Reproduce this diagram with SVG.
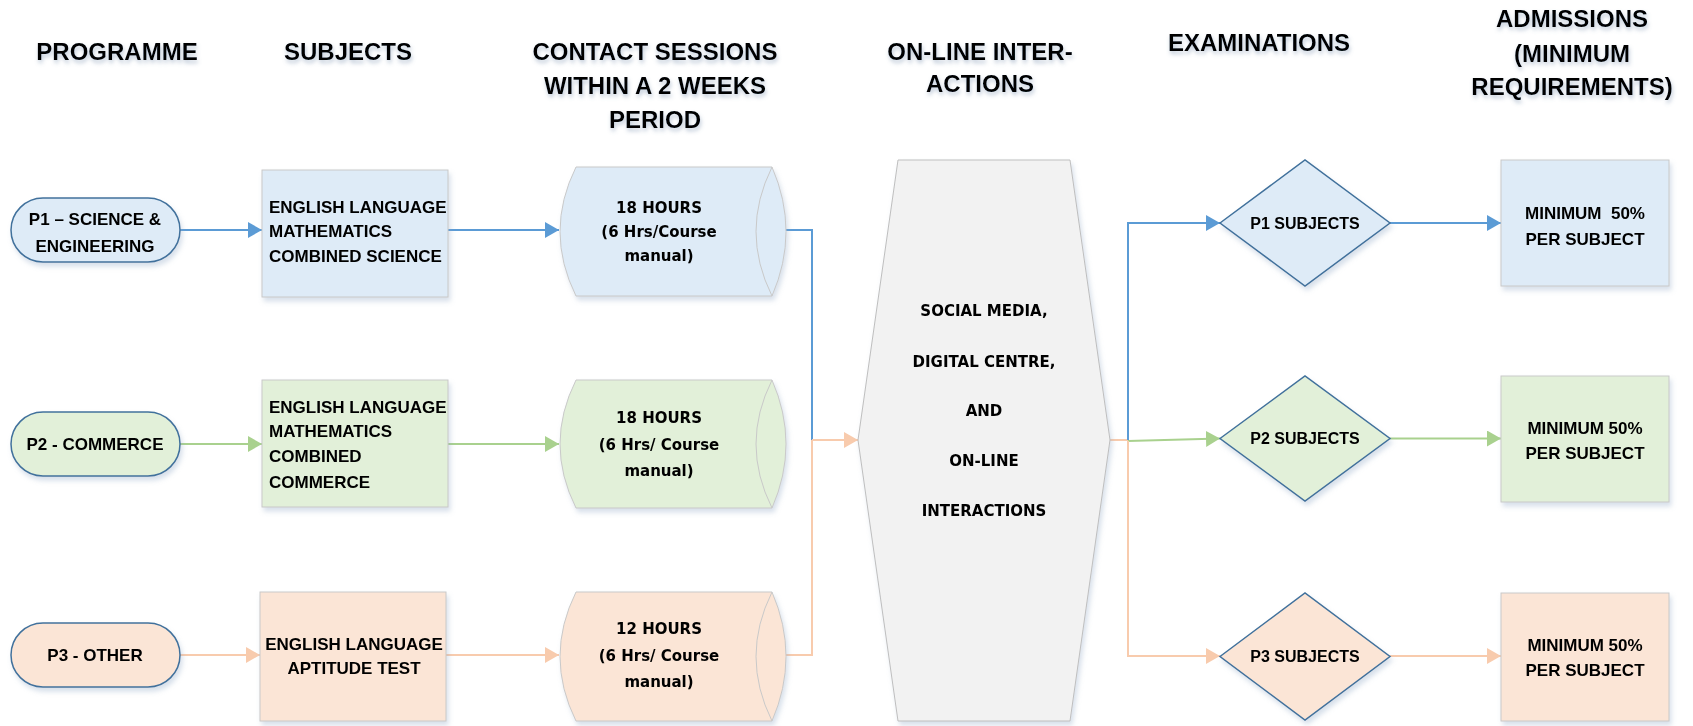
<svg xmlns="http://www.w3.org/2000/svg" width="1693" height="726" viewBox="0 0 1693 726">
<style>
.hdr{font-family:"Liberation Sans",Arial,sans-serif;font-weight:bold;font-size:24px;fill:#000;text-anchor:middle}
.t{font-family:"Liberation Sans",Arial,sans-serif;font-weight:bold;font-size:17px;fill:#000}
.d{font-size:16px}
.c{text-anchor:middle}
.v{font-family:"DejaVu Sans",Verdana,sans-serif;font-weight:bold;font-size:15px;fill:#000;text-anchor:middle}
.pill{stroke:#41719C;stroke-width:1.5}
.box{stroke:#C9C9C9;stroke-width:1}
.dia{stroke:#41719C;stroke-width:1.5}
.b{fill:#DEEBF7}.g{fill:#E2F0D9}.o{fill:#FBE5D6}
.lb{stroke:#5B9BD5;stroke-width:2;fill:none}
.lg{stroke:#A9D18E;stroke-width:2;fill:none}
.lo{stroke:#F8CBAD;stroke-width:2;fill:none}
</style>
<defs>
<filter id="sh" x="-10%" y="-10%" width="130%" height="130%">
<feDropShadow dx="2" dy="4" stdDeviation="2.5" flood-color="#8FA6C4" flood-opacity="0.35"/>
</filter>
<filter id="tsh" x="-10%" y="-30%" width="120%" height="180%">
<feDropShadow dx="1" dy="3" stdDeviation="2" flood-color="#6E86A8" flood-opacity="0.45"/>
</filter>
<marker id="ab" viewBox="0 0 14 16" refX="14" refY="8" markerWidth="14" markerHeight="16" markerUnits="userSpaceOnUse" orient="auto"><path d="M0,0 L14,8 L0,16 Z" fill="#5B9BD5"/></marker>
<marker id="ag" viewBox="0 0 14 16" refX="14" refY="8" markerWidth="14" markerHeight="16" markerUnits="userSpaceOnUse" orient="auto"><path d="M0,0 L14,8 L0,16 Z" fill="#A9D18E"/></marker>
<marker id="ao" viewBox="0 0 14 16" refX="14" refY="8" markerWidth="14" markerHeight="16" markerUnits="userSpaceOnUse" orient="auto"><path d="M0,0 L14,8 L0,16 Z" fill="#F8CBAD"/></marker>
</defs>
<rect width="1693" height="726" fill="#fff"/>

<g id="headers" filter="url(#tsh)">
<text class="hdr" x="117" y="60">PROGRAMME</text>
<text class="hdr" x="348" y="60">SUBJECTS</text>
<text class="hdr" x="655" y="60">CONTACT SESSIONS</text>
<text class="hdr" x="655" y="94">WITHIN A 2 WEEKS</text>
<text class="hdr" x="655" y="128">PERIOD</text>
<text class="hdr" x="980" y="60">ON-LINE INTER-</text>
<text class="hdr" x="980" y="92">ACTIONS</text>
<text class="hdr" x="1259" y="51">EXAMINATIONS</text>
<text class="hdr" x="1572" y="27">ADMISSIONS</text>
<text class="hdr" x="1572" y="62">(MINIMUM</text>
<text class="hdr" x="1572" y="95">REQUIREMENTS)</text>
</g>

<g id="connectors">
<line class="lb" x1="180" y1="230" x2="262" y2="230" marker-end="url(#ab)"/>
<line class="lb" x1="448" y1="230" x2="559" y2="230" marker-end="url(#ab)"/>
<line class="lg" x1="180" y1="444" x2="262" y2="444" marker-end="url(#ag)"/>
<line class="lg" x1="448" y1="444" x2="559" y2="444" marker-end="url(#ag)"/>
<line class="lo" x1="180" y1="655" x2="260" y2="655" marker-end="url(#ao)"/>
<line class="lo" x1="446" y1="655" x2="559" y2="655" marker-end="url(#ao)"/>
<polyline class="lb" points="770,230 812,230 812,440"/>
<polyline class="lo" points="786,655 812,655 812,440"/>
<line class="lo" x1="812" y1="440" x2="858" y2="440" marker-end="url(#ao)"/>
<line class="lo" x1="1110" y1="440" x2="1128" y2="440"/>
<polyline class="lb" points="1128,440 1128,223 1220,223" marker-end="url(#ab)"/>
<line class="lg" x1="1128" y1="441" x2="1220" y2="438.5" marker-end="url(#ag)"/>
<polyline class="lo" points="1128,441 1128,656 1220,656" marker-end="url(#ao)"/>
<line class="lb" x1="1390" y1="223" x2="1501" y2="223" marker-end="url(#ab)"/>
<line class="lg" x1="1390" y1="438.5" x2="1501" y2="438.5" marker-end="url(#ag)"/>
<line class="lo" x1="1390" y1="656" x2="1501" y2="656" marker-end="url(#ao)"/>
</g>

<g id="p1" filter="url(#sh)">
<rect class="pill b" x="11" y="198" width="169" height="64" rx="32"/>
<text class="t c" x="95" y="225">P1 – SCIENCE &amp;</text>
<text class="t c" x="95" y="252">ENGINEERING</text>
</g>
<g id="p2" filter="url(#sh)">
<rect class="pill g" x="11" y="412" width="169" height="64" rx="32"/>
<text class="t c" x="95" y="450">P2 - COMMERCE</text>
</g>
<g id="p3" filter="url(#sh)">
<rect class="pill o" x="11" y="623" width="169" height="64" rx="32"/>
<text class="t c" x="95" y="661">P3 - OTHER</text>
</g>

<g id="subjects1" filter="url(#sh)">
<rect class="box b" x="262" y="170" width="186" height="127"/>
<text class="t" x="269" y="213">ENGLISH LANGUAGE</text>
<text class="t" x="269" y="237">MATHEMATICS</text>
<text class="t" x="269" y="262">COMBINED SCIENCE</text>
</g>
<g id="subjects2" filter="url(#sh)">
<rect class="box g" x="262" y="380" width="186" height="127"/>
<text class="t" x="269" y="413">ENGLISH LANGUAGE</text>
<text class="t" x="269" y="437">MATHEMATICS</text>
<text class="t" x="269" y="462">COMBINED</text>
<text class="t" x="269" y="488">COMMERCE</text>
</g>
<g id="subjects3" filter="url(#sh)">
<rect class="box o" x="260" y="592" width="186" height="129"/>
<text class="t c" x="354" y="650">ENGLISH LANGUAGE</text>
<text class="t c" x="354" y="674">APTITUDE TEST</text>
</g>

<g id="contact1" filter="url(#sh)">
<path class="box b" d="M576,167 H772 Q800,231.5 772,296 H576 Q544,231.5 576,167 Z"/>
<path d="M772,167 Q740,231.5 772,296" fill="none" stroke="#C9C9C9" stroke-width="1"/>
<text class="v" x="659" y="213">18 HOURS</text>
<text class="v" x="659" y="237">(6 Hrs/Course</text>
<text class="v" x="659" y="261">manual)</text>
</g>
<g id="contact2" filter="url(#sh)">
<path class="box g" d="M576,380 H772 Q800,444 772,508 H576 Q544,444 576,380 Z"/>
<path d="M772,380 Q740,444 772,508" fill="none" stroke="#C9C9C9" stroke-width="1"/>
<text class="v" x="659" y="423">18 HOURS</text>
<text class="v" x="659" y="450">(6 Hrs/ Course</text>
<text class="v" x="659" y="476">manual)</text>
</g>
<g id="contact3" filter="url(#sh)">
<path class="box o" d="M576,592 H772 Q800,656.5 772,721 H576 Q544,656.5 576,592 Z"/>
<path d="M772,592 Q740,656.5 772,721" fill="none" stroke="#C9C9C9" stroke-width="1"/>
<text class="v" x="659" y="634">12 HOURS</text>
<text class="v" x="659" y="661">(6 Hrs/ Course</text>
<text class="v" x="659" y="687">manual)</text>
</g>

<g id="online" filter="url(#sh)">
<polygon points="858,440 898,160 1070,160 1110,440 1070,721 898,721" fill="#F2F2F2" stroke="#BFBFBF" stroke-width="1"/>
<text class="v" x="984" y="316">SOCIAL MEDIA,</text>
<text class="v" x="984" y="367">DIGITAL CENTRE,</text>
<text class="v" x="984" y="416">AND</text>
<text class="v" x="984" y="466">ON-LINE</text>
<text class="v" x="984" y="516">INTERACTIONS</text>
</g>

<g id="exam1" filter="url(#sh)">
<polygon class="dia b" points="1220,223 1305,160 1390,223 1305,286"/>
<text class="t d c" x="1305" y="229">P1 SUBJECTS</text>
</g>
<g id="exam2" filter="url(#sh)">
<polygon class="dia g" points="1220,438.5 1305,376 1390,438.5 1305,501"/>
<text class="t d c" x="1305" y="444">P2 SUBJECTS</text>
</g>
<g id="exam3" filter="url(#sh)">
<polygon class="dia o" points="1220,656.5 1305,593 1390,656.5 1305,720"/>
<text class="t d c" x="1305" y="662">P3 SUBJECTS</text>
</g>

<g id="adm1" filter="url(#sh)">
<rect class="box b" x="1501" y="160" width="168" height="126"/>
<text class="t c" x="1585" y="219" style="white-space:pre">MINIMUM  50%</text>
<text class="t c" x="1585" y="245">PER SUBJECT</text>
</g>
<g id="adm2" filter="url(#sh)">
<rect class="box g" x="1501" y="376" width="168" height="126"/>
<text class="t c" x="1585" y="434">MINIMUM 50%</text>
<text class="t c" x="1585" y="459">PER SUBJECT</text>
</g>
<g id="adm3" filter="url(#sh)">
<rect class="box o" x="1501" y="593" width="168" height="128"/>
<text class="t c" x="1585" y="651">MINIMUM 50%</text>
<text class="t c" x="1585" y="676">PER SUBJECT</text>
</g>
</svg>
